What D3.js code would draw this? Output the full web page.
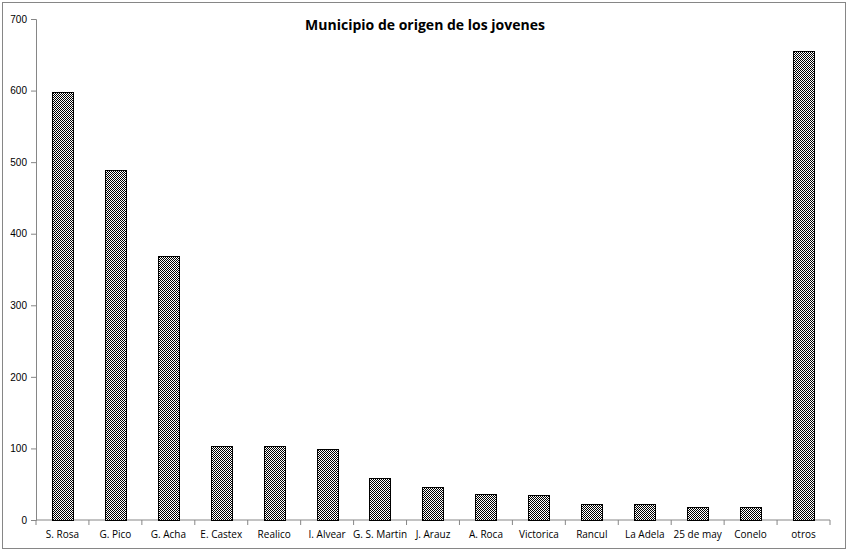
<!DOCTYPE html>
<html>
<head>
<meta charset="utf-8">
<script src="https://cdn.jsdelivr.net/npm/d3@7"></script>
<style>
  body { margin: 0; background: #fff; }
  svg { display: block; font-family: "Open Sans", "Liberation Sans", sans-serif; }
</style>
</head>
<body>
<svg id="chart"></svg>
<script>
var municipios = ["S. Rosa", "G. Pico", "G. Acha", "E. Castex", "Realico", "I. Alvear",
	"G. S. Martin", "J. Arauz", "A. Roca", "Victorica", "Rancul", "La Adela",
	"25 de may", "Conelo", "otros"];
var jovenes = [598, 489, 369, 104, 104, 99, 58, 46, 37, 35, 22, 22, 18, 18, 655];
var yTicks = [0, 100, 200, 300, 400, 500, 600, 700];

const width = 850;
const height = 553;
const margin = { top: 19, right: 20, bottom: 33, left: 36 };

var svg = d3.select("#chart").attr("width", width).attr("height", height);

// checker fill like the excel pattern
var pat = svg.append("defs").append("pattern")
	.attr("id", "checker")
	.attr("width", 2).attr("height", 2)
	.attr("patternUnits", "userSpaceOnUse");
pat.append("rect").attr("width", 2).attr("height", 2).attr("fill", "#fff");
pat.append("rect").attr("x", 0).attr("y", 0).attr("width", 1).attr("height", 1)
	.attr("fill", "#000").attr("shape-rendering", "crispEdges");
pat.append("rect").attr("x", 1).attr("y", 1).attr("width", 1).attr("height", 1)
	.attr("fill", "#000").attr("shape-rendering", "crispEdges");

// outer frame
svg.append("rect")
	.attr("x", 2.5).attr("y", 2.5)
	.attr("width", 843).attr("height", 546)
	.attr("fill", "none")
	.attr("stroke", "#868686");

var x = d3.scaleBand()
	.domain(municipios)
	.range([margin.left, width - margin.right])
	.paddingInner(0.6)
	.paddingOuter(0.3);

var y = d3.scaleLinear()
	.domain([0, 700])
	.range([height - margin.bottom, margin.top]);

svg.append("text")
	.attr("x", 425)
	.attr("y", 30)
	.attr("text-anchor", "middle")
	.style("font-size", "14px")
	.style("font-weight", "bold")
	.text("Municipio de origen de los jovenes");

// y axis
var yAxis = svg.append("g")
	.attr("transform", "translate(" + margin.left + ",0)")
	.call(d3.axisLeft(y).tickValues(yTicks).tickSize(5).tickPadding(4));
yAxis.selectAll("path, line").attr("stroke", "#868686");
yAxis.selectAll("text").style("font-size", "10px").attr("fill", "#000");

// x axis: ticks sit between categories
var xBase = y(0);
var band = (width - margin.right - margin.left) / municipios.length;
var xAxis = svg.append("g");
xAxis.append("line")
	.attr("x1", margin.left).attr("x2", width - margin.right)
	.attr("y1", xBase).attr("y2", xBase)
	.attr("stroke", "#868686");
xAxis.selectAll("line.tick")
	.data(d3.range(municipios.length + 1))
	.enter()
	.append("line")
	.attr("class", "tick")
	.attr("x1", function (d) { return margin.left + d * band; })
	.attr("x2", function (d) { return margin.left + d * band; })
	.attr("y1", xBase).attr("y2", xBase + 5)
	.attr("stroke", "#868686");
xAxis.selectAll("text")
	.data(municipios)
	.enter()
	.append("text")
	.attr("x", function (d) { return x(d) + x.bandwidth() / 2; })
	.attr("y", xBase + 18)
	.attr("text-anchor", "middle")
	.style("font-size", "10px")
	.text(function (d) { return d; });

// bars
svg.selectAll("rect.bar")
	.data(jovenes)
	.enter()
	.append("rect")
	.attr("class", "bar")
	.attr("x", function (d, i) { return Math.round(x(municipios[i])) + 0.5; })
	.attr("y", function (d) { return Math.round(y(d)) + 0.5; })
	.attr("width", Math.round(x.bandwidth()))
	.attr("height", function (d) { return Math.round(y(0)) - Math.round(y(d)); })
	.attr("fill", "url(#checker)")
	.attr("stroke", "#000")
	.attr("stroke-width", 1);
</script>
</body>
</html>
